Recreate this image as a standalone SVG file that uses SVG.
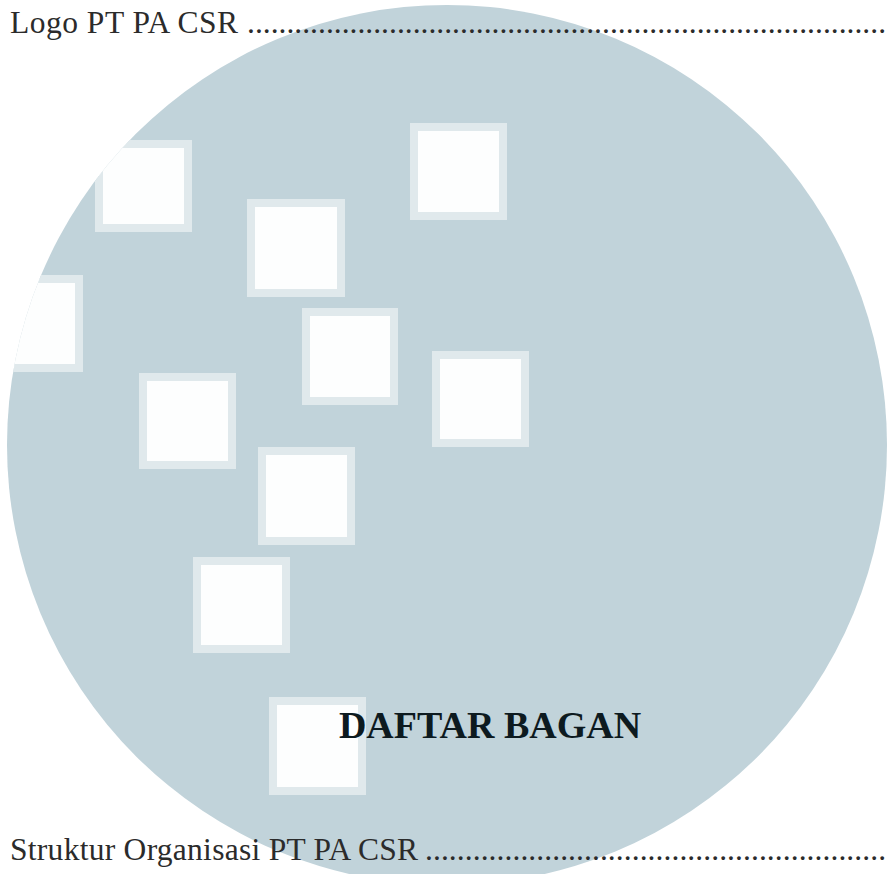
<svg xmlns="http://www.w3.org/2000/svg" width="889" height="874" viewBox="0 0 889 874">
<style>
.sq{fill:#fdfefe;stroke:#e0e9ec;stroke-width:8}
.t{font-family:"Liberation Serif","Times New Roman",serif;fill:#2b2b2b}
.h{font-family:"Liberation Serif","Times New Roman",serif;font-weight:bold;fill:#0d1a1f}
</style>
<defs>
<clipPath id="disc"><circle cx="447" cy="445" r="440"/></clipPath>
</defs>
<rect width="889" height="874" fill="#ffffff"/>
<g id="watermark">
<circle cx="447" cy="445" r="440" fill="#c1d3da"/>
<g clip-path="url(#disc)">
<rect class="sq" x="414" y="127" width="89" height="89"/>
<rect class="sq" x="251" y="203" width="90" height="90"/>
<rect class="sq" x="306" y="312" width="88" height="89"/>
<rect class="sq" x="436" y="355" width="89" height="88"/>
<rect class="sq" x="143" y="377" width="89" height="88"/>
<rect class="sq" x="262" y="451" width="89" height="90"/>
<rect class="sq" x="197" y="561" width="89" height="88"/>
<rect class="sq" x="273" y="701" width="89" height="90"/>
<rect class="sq" x="99" y="144" width="89" height="84"/>
<rect class="sq" x="-10" y="279" width="89" height="89"/>
</g>
</g>
<g id="texts">
<text class="t" x="10" y="33" font-size="31.5" textLength="228" lengthAdjust="spacing">Logo PT PA CSR</text>
<text class="t" x="247" y="33" font-size="31.5" textLength="639" lengthAdjust="spacing">.................................................................................</text>
<text class="h" x="490" y="738" font-size="38" text-anchor="middle">DAFTAR BAGAN</text>
<text class="t" x="10" y="860" font-size="31.5" textLength="408" lengthAdjust="spacing">Struktur Organisasi PT PA CSR</text>
<text class="t" x="425" y="860" font-size="31.5" textLength="461" lengthAdjust="spacing">..........................................................</text>
</g>
</svg>
